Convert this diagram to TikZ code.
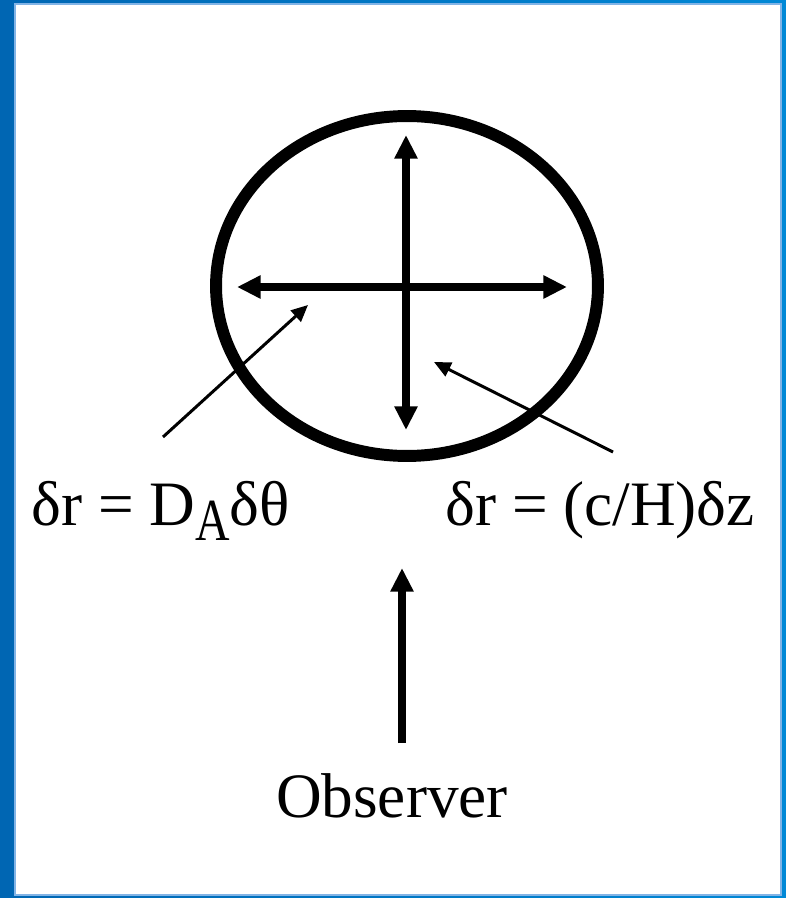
\documentclass[tikz,border=0pt]{standalone}
\usepackage{fontspec}
\setmainfont{Liberation Serif}
\usetikzlibrary{arrows.meta,shapes.geometric}

\definecolor{slideblue}{RGB}{0,102,179}
\definecolor{slideblueR}{RGB}{0,136,214}
\definecolor{edgeblue}{RGB}{130,180,230}

\tikzset{
  bigarrow/.style={line width=4.2pt,-{Triangle[length=13.5pt,width=12.5pt]}},
  twoway/.style={line width=4.2pt,{Triangle[length=13.5pt,width=12.5pt]}-{Triangle[length=13.5pt,width=12.5pt]}},
  pointer/.style={line width=1.7pt,-{Triangle[length=9.5pt,width=8.5pt]}},
  eqn/.style={font=\fontsize{36}{40}\selectfont,inner sep=0pt}
}

\begin{document}
\begin{tikzpicture}[x=0.02cm,y=-0.02cm]
  \useasboundingbox (0,0) rectangle (786,898);

  % slide frame
  \shade[left color=slideblue,right color=slideblueR] (0,0) rectangle (786,898);
  \fill[white] (15,4) rectangle (781,895);
  \draw[edgeblue,line width=0.6pt] (15,4) rectangle (781,895);

  % the volume element
  \node[ellipse,draw,line width=6.8pt,minimum width=7.64cm,minimum height=6.8cm,inner sep=0pt]
    (cell) at (407,286) {};

  \coordinate (losfar) at (406,135);
  \coordinate (losnear) at (406,430);
  \coordinate (skyleft) at (237,287);
  \coordinate (skyright) at (567,287);
  \draw[twoway] (losfar) -- (losnear);
  \draw[twoway] (skyleft) -- (skyright);

  % labels
  \node[eqn,anchor=base west] (transverse) at (31,525)
    {δr = D\raisebox{-0.24em}{\scalebox{0.8}[1]{\fontsize{34}{36}\selectfont A}}δθ};
  \node[eqn,anchor=base west] (radial) at (445,525) {δr = (c/H)δz};

  \coordinate (transfoot) at (163,437);
  \coordinate (transtip) at (308,305);
  \coordinate (radfoot) at (613,452);
  \coordinate (radtip) at (434,362);
  \draw[pointer] (transfoot) -- (transtip);
  \draw[pointer] (radfoot) -- (radtip);

  % observer
  \node[eqn,anchor=base] (observer) at (392,817) {Observer};
  \coordinate (obstail) at (402,743);
  \coordinate (obstip) at (402,568);
  \draw[bigarrow] (obstail) -- (obstip);
\end{tikzpicture}
\end{document}
